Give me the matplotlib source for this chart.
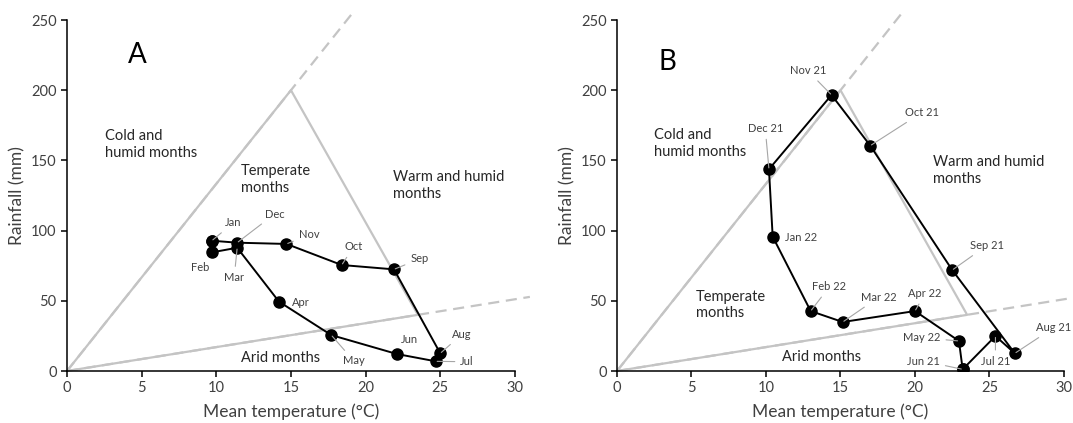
import matplotlib
matplotlib.use("Agg")
import matplotlib.pyplot as plt

plt.rcParams["font.family"] = ["Lato", "DejaVu Sans"]

# Panel A: monthly climate (path order Jan..Dec, closed back to Jan)
months_a = ["Jan", "Feb", "Mar", "Apr", "May", "Jun",
            "Jul", "Aug", "Sep", "Oct", "Nov", "Dec"]
temp_a = [9.7, 9.7, 11.4, 14.2, 17.7, 22.1, 24.7, 25.0, 21.9, 18.4, 14.7, 11.4]
rain_a = [92.8, 84.5, 87.8, 49.4, 25.6, 12.1, 6.9, 12.6, 72.4, 75.5, 90.5, 91.4]

# Panel B: Jun 21 .. May 22
months_b = ["Jun 21", "Jul 21", "Aug 21", "Sep 21", "Oct 21", "Nov 21",
            "Dec 21", "Jan 22", "Feb 22", "Mar 22", "Apr 22", "May 22"]
temp_b = [23.2, 25.4, 26.7, 22.5, 17.0, 14.4, 10.2, 10.45, 13.0, 15.15, 20.0, 22.95]
rain_b = [1.2, 24.9, 12.6, 71.9, 160.5, 196.6, 143.7, 95.7, 42.7, 34.9, 42.7, 21.4]

# label positions (data coords) and whether a leader line is drawn
lab_a = {
    "Jan": (11.15, 105.6, True), "Feb": (8.95, 73.6, False),
    "Mar": (11.2, 66.7, True), "Apr": (15.65, 48.7, False),
    "May": (19.2, 7.3, True), "Jun": (22.97, 22.6, False),
    "Jul": (26.8, 6.6, True), "Aug": (26.45, 26.1, True),
    "Sep": (23.6, 79.8, True), "Oct": (19.2, 88.5, True),
    "Nov": (16.2, 96.9, True), "Dec": (13.9, 111.8, True),
}
lab_b = {
    "Jun 21": (20.57, 7.1, True), "Jul 21": (25.4, 7.1, True),
    "Aug 21": (29.3, 30.8, True), "Sep 21": (24.8, 89.2, True),
    "Oct 21": (20.45, 184.0, True), "Nov 21": (12.8, 213.9, True),
    "Dec 21": (9.95, 172.9, True), "Jan 22": (12.36, 95.4, False),
    "Feb 22": (14.26, 60.1, True), "Mar 22": (17.56, 52.5, True),
    "Apr 22": (20.68, 55.3, True), "May 22": (20.46, 23.7, True),
}

# zone boundaries
apex = (15, 200)
arid_end = (23.5, 40)
cold_ext = (19.3, 257.3)
arid_ext = (31, 52.8)

zones_a = [("Cold and\nhumid months", 2.55, 161.3),
           ("Temperate\nmonths", 11.65, 136.4),
           ("Warm and humid\nmonths", 21.86, 132.1),
           ("Arid months", 11.65, 9.0)]
zones_b = [("Cold and\nhumid months", 2.48, 162.2),
           ("Temperate\nmonths", 5.27, 47.0),
           ("Warm and humid\nmonths", 21.24, 142.8),
           ("Arid months", 11.06, 10.2)]

grey = "#c4c4c4"
txt = "#404040"

fig = plt.figure(figsize=(10.73, 4.23), dpi=100)
ax_a = fig.add_axes([0.0624, 0.1229, 0.4175, 0.8298])
ax_b = fig.add_axes([0.575, 0.1229, 0.4166, 0.8298])


def draw_panel(ax, temps, rains, months, labels, zones, letter, letter_xy):
    # zone lines
    ax.plot([0, cold_ext[0]], [0, cold_ext[1]], color=grey, lw=1.6,
            ls=(0, (5, 3)), clip_on=False, zorder=1)
    ax.plot([0, arid_ext[0]], [0, arid_ext[1]], color=grey, lw=1.6,
            ls=(0, (5, 3)), clip_on=False, zorder=1)
    ax.plot([0, apex[0], arid_end[0], 0], [0, apex[1], arid_end[1], 0],
            color=grey, lw=1.6, zorder=1)

    xs = temps + temps[:1]
    ys = rains + rains[:1]
    ax.plot(xs, ys, color="black", lw=1.4, marker="o", ms=8, zorder=3)

    for m, t, r in zip(months, temps, rains):
        lx, ly, leader = labels[m]
        if leader:
            ax.annotate(m, xy=(t, r), xytext=(lx, ly), fontsize=8, color=txt,
                        ha="center", va="center",
                        arrowprops=dict(arrowstyle="-", color="#a6a6a6", lw=0.8,
                                        shrinkA=2, shrinkB=1))
        else:
            ax.text(lx, ly, m, fontsize=8, color=txt, ha="center", va="center")

    for s, x, y in zones:
        ax.text(x, y, s, fontsize=10.5, color="#262626", ha="left", va="center",
                linespacing=1.25)

    ax.text(letter_xy[0], letter_xy[1], letter, fontsize=20, color="black",
            ha="left", va="center")

    ax.set_xlim(0, 30)
    ax.set_ylim(0, 250)
    ax.set_xticks(range(0, 31, 5))
    ax.set_yticks(range(0, 251, 50))
    for side in ["top", "right"]:
        ax.spines[side].set_visible(False)
    for side in ["left", "bottom"]:
        ax.spines[side].set_linewidth(1.1)
    ax.tick_params(direction="out", length=4, width=1.1, labelsize=10.5,
                   labelcolor=txt)
    ax.set_xlabel("Mean temperature (°C)", fontsize=12.5, color=txt, labelpad=6)
    ax.set_ylabel("Rainfall (mm)", fontsize=12.5, color=txt, labelpad=4)


draw_panel(ax_a, temp_a, rain_a, months_a, lab_a, zones_a, "A", (4.1, 225))
draw_panel(ax_b, temp_b, rain_b, months_b, lab_b, zones_b, "B", (2.8, 220))

fig.savefig("out.png", dpi=100)
